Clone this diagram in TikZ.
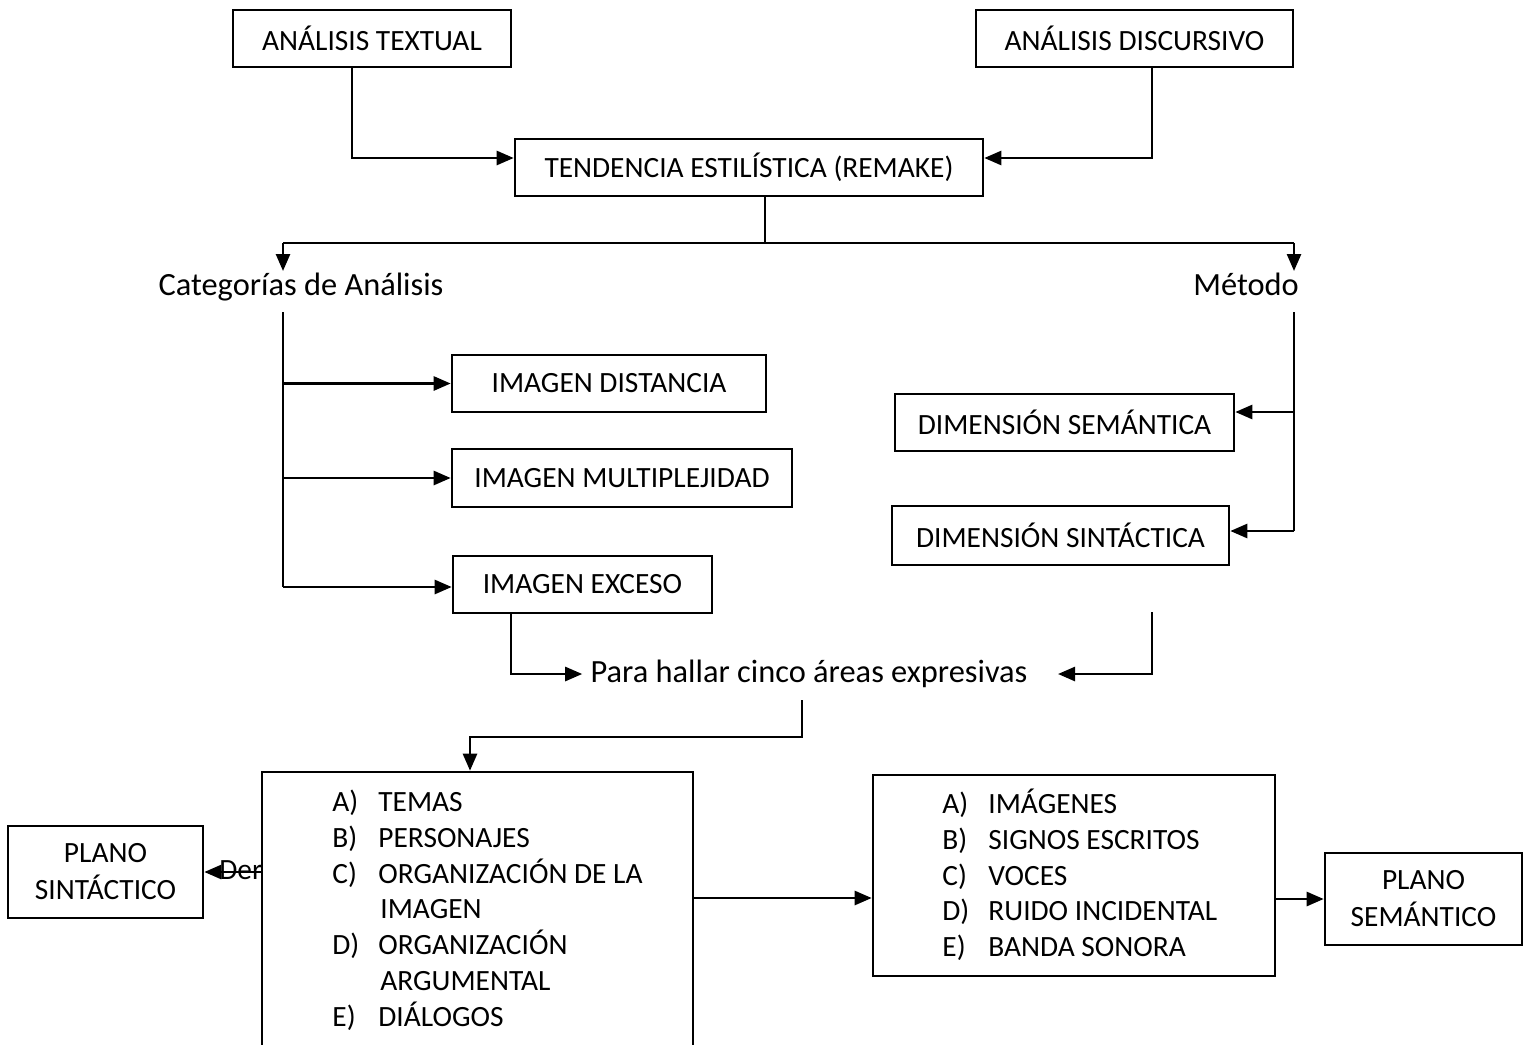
\documentclass[tikz,border=0pt]{standalone}
\usepackage{fontspec}
\setmainfont{Carlito}
\usetikzlibrary{arrows.meta}
\begin{document}
\begin{tikzpicture}[x=0.5pt,y=-0.5pt,
  every node/.style={font=\fontsize{14.7pt}{18pt}\selectfont, text=black},
  box/.style={draw, line width=1.3pt, fill=white, inner sep=0pt},
  lbl/.style={inner sep=1pt, font=\fontsize{16.2pt}{20pt}\selectfont},
  conn/.style={line width=1.3pt},
  arr/.style={conn, -{Triangle[length=8.5pt,width=7pt]}},
  item/.style={anchor=base west, inner sep=0pt}]
\useasboundingbox (0,0) rectangle (1530,1044);
\clip (0,0) rectangle (1530,1044);

% top boxes
\node[box, minimum width=139pt, minimum height=28.5pt] (textual) at (372,38.5) {ANÁLISIS TEXTUAL};
\node[box, minimum width=158.5pt, minimum height=28.5pt] (discursivo) at (1134.5,38.5) {ANÁLISIS DISCURSIVO};
\node[box, minimum width=234pt, minimum height=28.5pt] (tendencia) at (749,167.5) {TENDENCIA ESTILÍSTICA (REMAKE)};

% labels
\node[lbl, anchor=base] (cat) at (301,295.5) {Categorías de Análisis};
\node[lbl, anchor=base] (metodo) at (1246,295.5) {Método};

% left branch boxes
\node[box, minimum width=157pt, minimum height=28.5pt] (distancia) at (609,383.5) {IMAGEN DISTANCIA};
\node[box, minimum width=170pt, minimum height=29pt] (multi) at (622,478) {IMAGEN MULTIPLEJIDAD};
\node[box, minimum width=129.5pt, minimum height=28.5pt] (exceso) at (582.5,584.5) {IMAGEN EXCESO};

% right branch boxes
\node[box, minimum width=169.5pt, minimum height=28.5pt] (semantica) at (1064.5,422.5) {DIMENSIÓN SEMÁNTICA};
\node[box, minimum width=168.5pt, minimum height=29.5pt] (sintactica) at (1060.5,535.5) {DIMENSIÓN SINTÁCTICA};

% middle text
\node[lbl, inner xsep=4pt] (para) at (809,674) {Para hallar cinco áreas expresivas};

% "Der" partly hidden by the big box
\node[item] (der) at (219,879) {Der};

% bottom boxes
\node[box, minimum width=215.5pt, minimum height=146pt] (big) at (477.5,918) {};
\node[box, minimum width=201pt, minimum height=100.5pt] (rlist) at (1074,875.5) {};
\node[box, minimum width=97.5pt, minimum height=46pt, align=center, font=\fontsize{14.7pt}{18.5pt}\selectfont] (psint) at (105.5,872) {PLANO\\SINTÁCTICO};
\node[box, minimum width=98.5pt, minimum height=46pt, align=center, font=\fontsize{14.7pt}{18.5pt}\selectfont] (psem) at (1423.5,899) {PLANO\\SEMÁNTICO};

% big list
\node[item] (bla) at (332,811.5) {A)};  \node[item] (bta) at (378,811.5) {TEMAS};
\node[item] (blb) at (332,847.3) {B)};  \node[item] (btb) at (378,847.3) {PERSONAJES};
\node[item] (blc) at (332,883.1) {C)};  \node[item] (btc) at (378,883.1) {ORGANIZACIÓN DE LA};
\node[item] (btc2) at (380,918.9) {IMAGEN};
\node[item] (bld) at (332,954.7) {D)};  \node[item] (btd) at (378,954.7) {ORGANIZACIÓN};
\node[item] (btd2) at (380,990.5) {ARGUMENTAL};
\node[item] (ble) at (332,1026.3) {E)};  \node[item] (bte) at (378,1026.3) {DIÁLOGOS};

% right list
\node[item] (rla) at (942,813) {A)};  \node[item] (rta) at (988,813) {IMÁGENES};
\node[item] (rlb) at (942,849.5) {B)};  \node[item] (rtb) at (988,849.5) {SIGNOS ESCRITOS};
\node[item] (rlc) at (942,885) {C)};  \node[item] (rtc) at (988,885) {VOCES};
\node[item] (rld) at (942,920.5) {D)};  \node[item] (rtd) at (988,920.5) {RUIDO INCIDENTAL};
\node[item] (rle) at (942,956.5) {E)};  \node[item] (rte) at (988,956.5) {BANDA SONORA};

% coordinates for bends and free ends
\coordinate (t1) at (352,158);
\coordinate (d1) at (1152,158);
\coordinate (s) at (765,243);
\coordinate (cL) at (283,243);
\coordinate (cR) at (1294,243);
\coordinate (cLe) at (283,271);
\coordinate (lv0) at (283,312);
\coordinate (lv1) at (283,587);
\coordinate (rv0) at (1294,312);
\coordinate (rs) at (1294,412);
\coordinate (rv1) at (1294,531);
\coordinate (e1) at (511,674);
\coordinate (m1) at (1152,612);
\coordinate (m2) at (1058,674);
\coordinate (p1) at (802,700);
\coordinate (p2) at (470,737);
\coordinate (b1) at (693,898);

% connectors
\draw[arr] (textual.south -| t1) |- (tendencia.west |- t1);
\draw[arr] (discursivo.south -| d1) |- (tendencia.east |- d1);
\draw[conn] (tendencia.south -| s) -- (s);
\draw[conn] (cL) -- (cR);
\draw[arr] (cL) -- (cLe);
\draw[arr] (cR) -- (cR |- cLe);
\draw[conn] (lv0) -- (lv1);
\draw[arr] (lv0 |- distancia) -- (distancia.west);
\draw[arr] (lv0 |- multi) -- (multi.west);
\draw[arr] (lv1) -- (exceso.west |- lv1);
\draw[conn] (rv0) -- (rv1);
\draw[arr] (rs) -- (semantica.east |- rs);
\draw[arr] (rv1) -- (sintactica.east |- rv1);
\draw[arr] (exceso.south -| e1) |- (para.west);
\draw[arr] (m1) |- (m2);
\draw[arr] (p1) |- (p2) -- (p2 |- big.north);
\draw[arr] (b1) -- (rlist.west |- b1);
\draw[arr] (rlist.east |- psem) -- (psem.west);
\draw[arr] (big.west |- psint) -- (psint.east);
\end{tikzpicture}
\end{document}
